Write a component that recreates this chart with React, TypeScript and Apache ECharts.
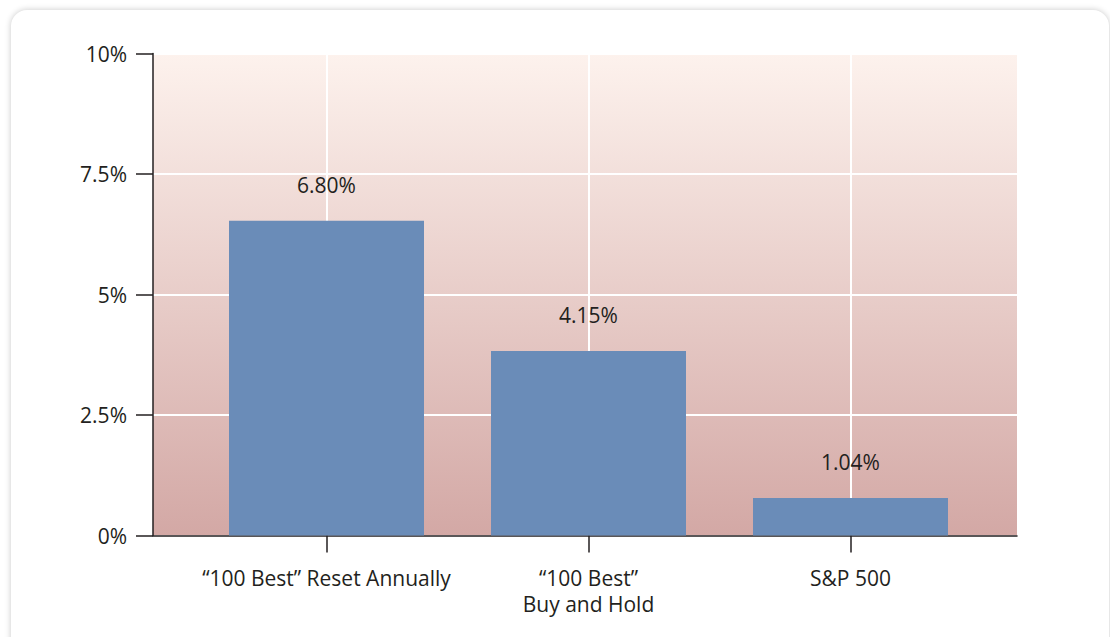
import React, { useEffect, useRef } from "react";
import * as echarts from "echarts";

const categories = ["“100 Best” Reset Annually", "“100 Best”\nBuy and Hold", "S&P 500"];
const barValues = [6.53, 3.83, 0.78];
const labelTexts = ["6.80%", "4.15%", "1.04%"];
const yTickValues = [0, 2.5, 5, 7.5, 10];
const yTickLabels = ["0%", "2.5%", "5%", "7.5%", "10%"];

const TEXT = "#231f20";
const FONT = "Open Sans";

export default function App() {
  const ref = useRef<HTMLDivElement>(null);
  useEffect(() => {
    if (!ref.current) return;
    const chart = echarts.init(ref.current, undefined, { renderer: "svg" });
    const gridTop = 53.5;
    const gridBottom = 637 - 535.5;
    chart.setOption({
      animation: false,
      textStyle: { fontFamily: FONT },
      grid: [
        {
          left: 153,
          right: 93,
          top: gridTop,
          bottom: gridBottom,
          show: true,
          borderWidth: 0,
          backgroundColor: new echarts.graphic.LinearGradient(0, 0, 0, 1, [
            { offset: 0, color: "#fdf2ed" },
            { offset: 1, color: "#d3a8a5" },
          ]),
        },
        { left: 326.5, width: 524, top: gridTop, bottom: gridBottom },
      ],
      xAxis: [
        {
          gridIndex: 0,
          type: "value",
          min: 0,
          max: 1,
          axisLine: { show: true, lineStyle: { color: TEXT, width: 1.5 } },
          axisTick: { show: false },
          axisLabel: { show: false },
          splitLine: { show: false },
        },
        {
          gridIndex: 1,
          type: "category",
          data: categories,
          boundaryGap: false,
          axisLine: { show: false },
          axisTick: { show: true, length: 17, lineStyle: { color: TEXT, width: 1.5 } },
          splitLine: { show: true, lineStyle: { color: "#ffffff", width: 2 } },
          axisLabel: {
            color: TEXT,
            fontSize: 21,
            fontFamily: FONT,
            margin: 29,
            lineHeight: 26,
            interval: 0,
          },
        },
      ],
      yAxis: [
        {
          gridIndex: 0,
          type: "value",
          min: 0,
          max: 10,
          interval: 2.5,
          axisLine: { show: true, lineStyle: { color: TEXT, width: 1.5 } },
          axisTick: { show: true, length: 17, lineStyle: { color: TEXT, width: 1.5 } },
          splitLine: { show: true, lineStyle: { color: "#ffffff", width: 2 } },
          axisLabel: {
            color: TEXT,
            fontSize: 21,
            fontFamily: FONT,
            margin: 26,
            formatter: (v: number) => {
              const i = yTickValues.findIndex((t) => Math.abs(t - v) < 1e-6);
              return i >= 0 ? yTickLabels[i] : "";
            },
          },
        },
        {
          gridIndex: 1,
          type: "value",
          min: 0,
          max: 10,
          show: false,
        },
      ],
      series: [
        {
          type: "bar",
          xAxisIndex: 1,
          yAxisIndex: 1,
          data: barValues,
          barWidth: 195,
          clip: false,
          itemStyle: { color: "#6a8cb8" },
          label: {
            show: true,
            position: "top",
            distance: 25,
            color: TEXT,
            fontSize: 21,
            fontFamily: FONT,
            formatter: (p: any) => labelTexts[p.dataIndex],
          },
        },
      ],
    });
    return () => chart.dispose();
  }, []);

  return (
    <div style={{ position: "fixed", left: 0, top: 0, width: 1110, height: 637, background: "#ffffff", overflow: "hidden" }}>
      <div
        style={{
          position: "absolute",
          left: 11,
          top: 10,
          width: 1098,
          height: 645,
          borderRadius: 16,
          background: "#ffffff",
          boxShadow: "0 0 6px rgba(0,0,0,0.22)",
        }}
      />
      <div ref={ref} style={{ position: "absolute", left: 0, top: 0, width: 1110, height: 637 }} />
    </div>
  );
}
